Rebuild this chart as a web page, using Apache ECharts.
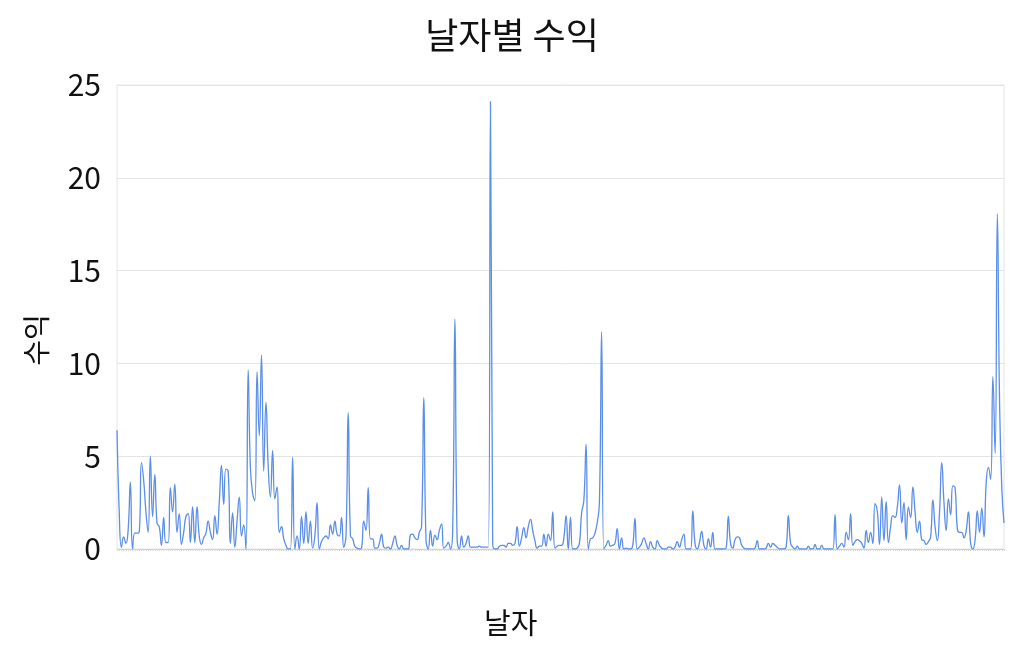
<!DOCTYPE html>
<html>
<head>
<meta charset="utf-8">
<script src="https://cdn.jsdelivr.net/npm/echarts@6/dist/echarts.min.js"></script>
<style>
html,body{margin:0;padding:0;background:#fff;}
#chart{width:1024px;height:656px;}
</style>
</head>
<body>
<div id="chart"></div>
<script>
const titleText = '날자별 수익';
const xAxisName = '날자';
const yAxisName = '수익';
const yTicks = [0, 5, 10, 15, 20, 25];

const profit = [
6.4,2.0,0.1,0.65,0.3,1.0,3.6,0.0,0.85,0.85,
0.9,4.65,3.7,2.0,0.9,5.0,1.75,4.0,1.4,1.2,
0.2,1.7,0.35,0.35,3.3,2.0,3.5,0.9,1.9,0.25,
0.9,1.75,1.9,0.35,2.27,0.35,2.27,0.7,0.25,0.6,
0.85,1.5,0.9,0.5,1.8,0.8,2.5,4.5,2.4,4.3,
4.2,0.3,1.95,0.1,1.5,2.8,0.7,1.3,0.0,9.65,
4.4,3.0,2.6,9.55,6.1,10.45,4.2,7.9,4.5,2.8,
5.3,2.7,3.35,0.9,1.2,0.55,0.2,0.0,0.0,4.95,
0.0,0.7,0.0,1.75,0.3,2.0,0.3,1.5,0.05,0.7,
2.5,0.0,0.4,0.6,0.7,0.55,1.3,0.8,1.5,0.8,
0.7,1.7,0.1,0.7,7.35,0.7,0.55,0.15,0.05,0.0,
0.05,1.5,1.0,3.3,0.55,0.55,0.05,0.05,0.3,0.8,
0.1,0.05,0.1,0.0,0.3,0.7,0.2,0.0,0.2,0.0,
0.0,0.0,0.75,0.8,0.6,0.5,0.9,1.2,8.15,0.5,
0.0,1.0,0.15,0.75,0.5,1.0,1.35,0.05,0.15,0.35,
0.0,1.0,12.4,0.5,0.0,0.7,0.1,0.3,0.7,0.1,
0.1,0.1,0.1,0.15,0.1,0.1,0.1,0.1,24.1,0.3,
0.0,0.0,0.15,0.2,0.2,0.1,0.3,0.3,0.2,0.3,
1.2,0.15,0.6,1.15,0.6,1.2,1.6,1.0,0.45,0.05,
0.15,0.15,0.8,0.15,0.8,0.45,2.0,0.05,0.15,0.2,
0.2,0.6,1.8,0.0,1.7,0.0,0.0,0.05,0.3,1.95,
2.6,5.65,0.0,0.55,0.6,0.85,1.4,2.5,11.7,0.0,
0.2,0.45,0.15,0.2,0.3,1.1,0.0,0.6,0.0,0.05,
0.0,0.0,0.2,1.65,0.0,0.1,0.3,0.6,0.3,0.0,
0.4,0.1,0.0,0.45,0.2,0.05,0.0,0.0,0.1,0.1,
0.0,0.1,0.4,0.1,0.5,0.8,0.0,0.0,0.0,2.05,
0.3,0.0,0.35,0.95,0.2,0.0,0.55,0.1,0.9,0.0,
0.0,0.0,0.0,0.0,0.05,1.75,0.3,0.05,0.5,0.65,
0.6,0.2,0.05,0.0,0.0,0.0,0.0,0.05,0.45,0.0,
0.0,0.0,0.05,0.3,0.1,0.3,0.2,0.1,0.0,0.0,
0.0,0.1,1.8,0.3,0.1,0.0,0.15,0.0,0.0,0.0,
0.0,0.15,0.0,0.0,0.25,0.0,0.0,0.2,0.0,0.0,
0.0,0.0,0.0,1.85,0.0,0.15,0.3,0.1,0.9,0.5,
1.9,0.2,0.4,0.5,0.45,0.3,0.05,1.0,0.35,0.9,
0.3,2.45,2.05,0.25,2.8,0.45,2.55,0.35,1.2,1.8,
1.7,2.25,3.45,1.4,2.5,0.5,2.25,1.7,3.35,2.0,
0.9,1.5,0.5,0.45,0.25,0.4,0.65,2.65,1.2,0.45,
2.0,4.65,2.5,1.0,2.7,1.85,3.4,3.3,1.1,0.9,
0.9,0.6,1.0,2.0,0.3,0.0,0.5,2.05,0.9,2.2,
0.65,3.6,4.4,3.75,9.3,5.15,18.05,8.0,3.3,1.4
];

// category labels (dates), one per value
const dates = [];
(function(){
  const start = new Date(Date.UTC(2019, 0, 1));
  for (let i = 0; i < profit.length; i++) {
    const d = new Date(start.getTime() + i * 86400000);
    dates.push(d.toISOString().slice(0, 10));
  }
})();

const FONT = '"Noto Sans CJK KR", "Noto Sans", sans-serif';
const chart = echarts.init(document.getElementById('chart'), null, {renderer: 'canvas'});
chart.setOption({
  animation: false,
  backgroundColor: '#ffffff',
  title: {
    text: titleText,
    left: 'center',
    top: 12,
    textStyle: {fontFamily: FONT, fontSize: 36, fontWeight: 'normal', color: '#111'}
  },
  grid: {
    left: 117, right: 20, top: 85, bottom: 107,
    show: true, borderColor: '#e4e4e4', borderWidth: 1
  },
  xAxis: {
    type: 'category',
    data: dates,
    boundaryGap: false,
    axisLine: {show: true, lineStyle: {color: '#d0d0d0', width: 1}},
    axisTick: {show: true, interval: 0, length: 2, lineStyle: {color: '#d6d6d6'}},
    axisLabel: {show: false},
    splitLine: {show: false}
  },
  yAxis: {
    type: 'value',
    min: yTicks[0],
    max: yTicks[yTicks.length - 1],
    interval: 5,
    axisLine: {show: false},
    axisTick: {show: false},
    axisLabel: {fontFamily: FONT, fontSize: 30, color: '#111', margin: 16},
    splitLine: {lineStyle: {color: '#e4e4e4', width: 1}}
  },
  graphic: [
    {type: 'text', left: 484, top: 608,
     style: {text: xAxisName, font: '29px ' + FONT, fill: '#111'}},
    {type: 'text', x: 36, y: 340, rotation: Math.PI / 2,
     style: {text: yAxisName, font: '28px ' + FONT, fill: '#111', align: 'center', verticalAlign: 'middle'}}
  ],
  series: [{
    type: 'line',
    data: profit,
    smooth: true,
    symbol: 'none',
    lineStyle: {color: '#5b8ee8', width: 1.3}
  }]
});
</script>
</body>
</html>
